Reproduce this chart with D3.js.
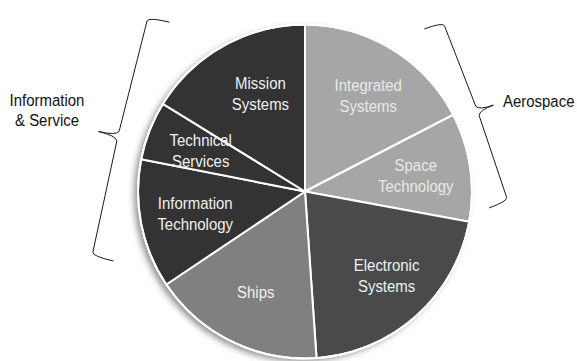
<!DOCTYPE html>
<html>
<head>
<meta charset="utf-8">
<script src="https://cdn.jsdelivr.net/npm/d3@7/dist/d3.min.js"></script>
<style>
  html, body { margin: 0; padding: 0; background: #ffffff; }
  svg { display: block; }
  text { font-family: "Liberation Sans", Arial, sans-serif; }
</style>
</head>
<body>
<svg id="chart" width="577" height="361"></svg>
<script>
// ---- data ----
const segments = ["Integrated Systems", "Space Technology", "Electronic Systems", "Ships",
                  "Information Technology", "Technical Services", "Mission Systems"];
const shares = [17.4, 10.5, 21.0, 16.7, 12.5, 5.7, 16.2];
const groups = ["Aerospace", "Information & Service"];

// ---- styling / layout ----
const W = 577, H = 361;
const cx = 305, cy = 191.5, R = 167;
const sliceColors = ["#a6a6a6", "#a6a6a6", "#4a4a4a", "#808080", "#333333", "#333333", "#333333"];
const labelRadius = 112;
const labelNudge = { "Integrated Systems": [5, 0], "Electronic Systems": [7, 0], "Mission Systems": [10, 0] };
const fontSize = 17, scaleX = 0.88, lineH = 21;

const svg = d3.select("#chart");
const defs = svg.append("defs");
const f = defs.append("filter").attr("id", "shadow")
  .attr("x", "-20%").attr("y", "-20%").attr("width", "140%").attr("height", "140%");
f.append("feDropShadow").attr("dx", -4).attr("dy", 3).attr("stdDeviation", 3)
  .attr("flood-color", "#555").attr("flood-opacity", 0.65);

const g = svg.append("g").attr("transform", `translate(${cx},${cy})`);

// background disc with shadow
g.append("circle").attr("r", R).attr("fill", "#fff").attr("filter", "url(#shadow)");

const pie = d3.pie().sort(null).value(d => d.v).startAngle(0).endAngle(2 * Math.PI);
const data = segments.map((s, i) => ({ name: s, v: shares[i], color: sliceColors[i] }));
const arcs = pie(data);
const arc = d3.arc().innerRadius(0).outerRadius(R);
const labelArc = d3.arc().innerRadius(labelRadius).outerRadius(labelRadius);

g.selectAll("path.slice").data(arcs).join("path")
  .attr("class", "slice")
  .attr("d", arc)
  .attr("fill", d => d.data.color)
  .attr("stroke", "#ffffff")
  .attr("stroke-width", 2)
  .attr("stroke-linejoin", "round");

// outer white rim
g.append("circle").attr("r", R).attr("fill", "none").attr("stroke", "#fff").attr("stroke-width", 2);

// slice labels
arcs.forEach(d => {
  const [x0, y0] = labelArc.centroid(d);
  const nudge = labelNudge[d.data.name] || [0, 0];
  const x = x0 + nudge[0], y = y0 + nudge[1];
  const words = d.data.name.split(" ");
  const lines = words.length > 1 ? [words[0], words.slice(1).join(" ")] : words;
  const first = y - (lines.length - 1) * lineH / 2 + fontSize * 0.36;
  const t = g.append("text")
    .attr("transform", `translate(${x},${first}) scale(${scaleX},1)`)
    .attr("text-anchor", "middle")
    .attr("font-size", fontSize)
    .attr("fill", d.data.color === "#a6a6a6" ? "#e9e9e9" : "#f0f0f0");
  lines.forEach((ln, i) => {
    t.append("tspan").attr("x", 0).attr("y", i * lineH).text(ln);
  });
});

// ---- braces ----
function polar(angleDeg, dist) {
  const a = angleDeg * Math.PI / 180;
  return [cx + Math.sin(a) * dist, cy - Math.cos(a) * dist];
}
function brace(c1, c2, outwardSign, hook, tipLen) {
  const dx = c2[0] - c1[0], dy = c2[1] - c1[1];
  const L = Math.hypot(dx, dy);
  const u = [dx / L, dy / L];
  // normal: rotate u by -90 (outward to the right for a top->bottom line)
  const n = [u[1] * -outwardSign * -1, -u[0] * -outwardSign * -1];
  const m = [(c1[0] + c2[0]) / 2, (c1[1] + c2[1]) / 2];
  const add = (p, v, k) => [p[0] + v[0] * k, p[1] + v[1] * k];
  const h1 = add(c1, n, -hook), h2 = add(c2, n, -hook);
  const c1b = add(c1, u, 4), c2b = add(c2, u, -4);
  const mid1 = add(add(m, u, -5), n, 2), mid2 = add(add(m, u, 5), n, 2);
  const tip = add(m, n, tipLen);
  const p = d3.path();
  p.moveTo(...h1);
  p.quadraticCurveTo(...c1, ...c1b);
  p.lineTo(...mid1);
  p.quadraticCurveTo(...add(m, n, 4), ...tip);
  p.quadraticCurveTo(...add(m, n, 4), ...mid2);
  p.lineTo(...c2b);
  p.quadraticCurveTo(...c2, ...h2);
  return p.toString();
}

// Aerospace brace (right)
const rb1 = polar(39.2, 218.6), rb2 = polar(92.7, 203.2);
svg.append("path").attr("d", brace(rb1, rb2, 1, 20, 19))
  .attr("fill", "none").attr("stroke", "#1a1a1a").attr("stroke-width", 1);
// Information & Service brace (left)
const lb1 = polar(318.0, 234.7), lb2 = polar(253.15, 222.6);
svg.append("path").attr("d", brace(lb1, lb2, -1, 22, 22))
  .attr("fill", "none").attr("stroke", "#1a1a1a").attr("stroke-width", 1);

// group labels
svg.append("text")
  .attr("transform", `translate(503,106.5) scale(${scaleX},1)`)
  .attr("font-size", fontSize).attr("fill", "#111")
  .text(groups[0]);
const gl = svg.append("text")
  .attr("transform", `translate(47,105.5) scale(${scaleX},1)`)
  .attr("text-anchor", "middle")
  .attr("font-size", fontSize).attr("fill", "#111");
const gw = groups[1].split(" ");
gl.append("tspan").attr("x", 0).attr("y", 0).text(gw[0]);
gl.append("tspan").attr("x", 0).attr("y", lineH).text(gw.slice(1).join(" "));
</script>
</body>
</html>
